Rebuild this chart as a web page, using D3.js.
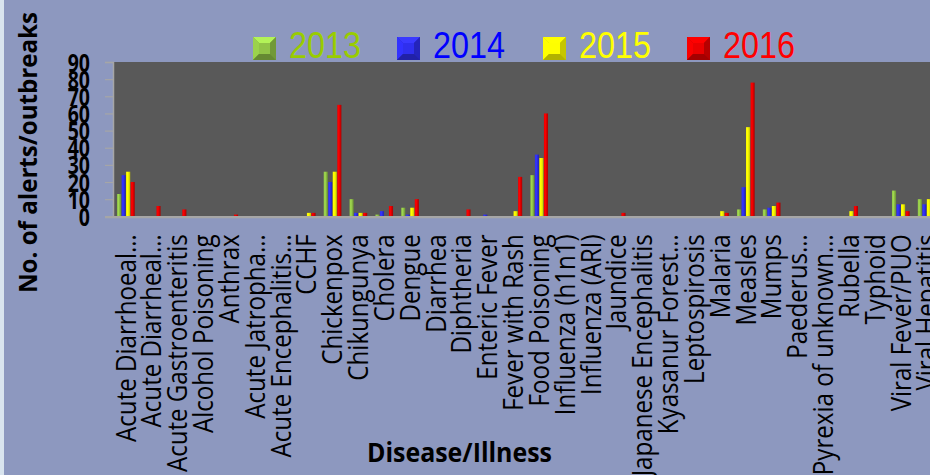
<!DOCTYPE html>
<html><head><meta charset="utf-8">
<script src="https://cdn.jsdelivr.net/npm/d3@7"></script>
<style>
html,body{margin:0;padding:0;background:#8d98bf;overflow:hidden;}
svg{display:block;}
</style></head>
<body>
<svg id="chart" width="930" height="475"></svg>
<script>
const categories = ["Acute Diarrhoeal…","Acute Diarrheal…","Acute Gastroenteritis","Alcohol Poisoning","Anthrax","Acute Jatropha…","Acute Encephalitis…","CCHF","Chickenpox","Chikungunya","Cholera","Dengue","Diarrhea","Diphtheria","Enteric Fever","Fever with Rash","Food Poisoning","Influenza (h1n1)","Influenza (ARI)","Jaundice","Japanese Encephalitis","Kyasanur Forest…","Leptospirosis","Malaria","Measles","Mumps","Paederus…","Pyrexia of unknown…","Rubella","Typhoid","Viral Fever/PUO","Viral Hepatitis"];
const years = ["2013","2014","2015","2016"];
const v2013 = [13,0,0,0,0,0,0,0,26,10,1,5,0,0,0,0,24,0,0,0,0,0,0,0,4,4,0,0,0,0,15,10];
const v2014 = [24,0,0,0,0,0,0,0,20,2,3,1,0,0,1,0,36,0,0,0,0,0,0,0,17,5,0,0,0,0,7,7];
const v2015 = [26,0,0,0,0,0,0,2,26,2,0,5,0,0,0,3,34,0,0,0,0,0,0,3,52,6,0,0,3,0,7,10];
const v2016 = [20,6,4,0,1,0,0,2,65,2,6,10,0,4,0,23,60,0,0,2,0,0,0,2,78,8,0,0,6,0,3,4];
const yTicks = [0,10,20,30,40,50,60,70,80,90];
const series = [v2013, v2014, v2015, v2016];
const barColors = ["#82b040","#2a2ad6","#e4e400","#d20000"];
const textColors = ["#99cc00","#0000ff","#ffff00","#ff0000"];

const FONT = "'Open Sans','Lato',sans-serif";
const svg = d3.select("#chart");
const W = 930, H = 475;
svg.append("rect").attr("x",0).attr("y",0).attr("width",W).attr("height",H).attr("fill","#8d98bf");
svg.append("rect").attr("x",0).attr("y",0).attr("width",4).attr("height",H).attr("fill","#d9e4ee");

const plotLeft = 113, plotTop = 62, plotBottom = 216.3;
const step = 25.83;
const x = d3.scaleBand().domain(categories).range([plotLeft, plotLeft + step*categories.length]).paddingInner(0.3).paddingOuter(0.15);
const x1 = d3.scaleBand().domain(years).range([0, x.bandwidth()]).padding(0);
const y = d3.scaleLinear().domain([0,90]).range([plotBottom, plotTop]);

const defs = svg.append("defs");
barColors.forEach((c,i)=>{
  const g = defs.append("linearGradient").attr("id","bg"+i).attr("x1","0").attr("x2","1").attr("y1","0").attr("y2","0");
  const col = d3.color(c);
  g.append("stop").attr("offset","0%").attr("stop-color", col.brighter(0.3));
  g.append("stop").attr("offset","35%").attr("stop-color", col.brighter(0.6));
  g.append("stop").attr("offset","70%").attr("stop-color", col);
  g.append("stop").attr("offset","100%").attr("stop-color", col.darker(0.6));
});

// plot area
svg.append("rect").attr("x",plotLeft).attr("y",plotTop).attr("width", W).attr("height", plotBottom-plotTop).attr("fill","#595959");

// bars
const gBars = svg.append("g");
categories.forEach((cat,ci)=>{
  years.forEach((yr,si)=>{
    const val = series[si][ci];
    if (val <= 0) return;
    gBars.append("rect")
      .attr("x", x(cat) + x1(yr) + 0.2)
      .attr("y", y(val))
      .attr("width", x1.bandwidth() - 0.4)
      .attr("height", y(0) - y(val))
      .attr("fill", "url(#bg"+si+")");
  });
});

// y axis
const yAxis = d3.axisLeft(y).tickValues(yTicks).tickSize(8).tickPadding(0);
const ya = svg.append("g").attr("transform",`translate(${plotLeft},0)`).call(yAxis);
ya.select(".domain").attr("stroke","#a6a6a6").attr("stroke-width",1.5);
ya.selectAll(".tick line").attr("stroke","#a6a6a6").attr("stroke-width",1.2);
const ySc = 0.78;
ya.selectAll(".tick text").attr("fill","#000").attr("font-family",FONT)
  .attr("font-weight","bold").attr("font-size","25px").attr("dy","0.36em")
  .attr("x", -23/ySc).attr("transform",`scale(${ySc},1)`);

// x axis
const xAxis = d3.axisBottom(x).tickSize(0).tickPadding(0);
const xa = svg.append("g").attr("transform",`translate(0,${plotBottom})`).call(xAxis);
xa.select(".domain").remove();
svg.append("line").attr("x1",plotLeft-8).attr("x2",W).attr("y1",plotBottom+0.8).attr("y2",plotBottom+0.8).attr("stroke","#a6a6a6").attr("stroke-width",2.4);
const labels = xa.selectAll(".tick text")
  .attr("fill","#000")
  .attr("font-family",FONT)
  .attr("font-size","27px")
  .attr("text-anchor","end");
// measure to compress to the reference's narrow face
let refLen = 0;
labels.each(function(d){ if (d === "Acute Gastroenteritis") refLen = this.getComputedTextLength(); });
const kx = refLen > 0 ? 238/refLen : 0.8;
labels.attr("transform",`rotate(-90) scale(${kx},1)`)
  .attr("x",-18/kx).attr("y",0).attr("dy","0.36em");

// axis titles
svg.append("text").attr("x",459.5).attr("y",462).attr("text-anchor","middle")
  .attr("font-family",FONT).attr("font-weight","bold").attr("font-size","26px")
  .attr("textLength",185).attr("lengthAdjust","spacingAndGlyphs")
  .attr("fill","#000").text("Disease/Illness");
svg.append("text").attr("transform","translate(37,152.5) rotate(-90)").attr("text-anchor","middle")
  .attr("font-family",FONT).attr("font-weight","bold").attr("font-size","25px")
  .attr("textLength",281).attr("lengthAdjust","spacingAndGlyphs")
  .attr("fill","#000").text("No. of alerts/outbreaks");

// legend
const legX = [253, 397, 543, 687];
years.forEach((yr,i)=>{
  const g = svg.append("g").attr("transform",`translate(${legX[i]},37)`);
  const s = 23, c = d3.color(barColors[i]), inset = 6;
  g.append("rect").attr("x",0).attr("y",0).attr("width",s).attr("height",s).attr("fill",c.darker(0.3));
  g.append("polygon").attr("points",`0,0 ${s},0 ${s-inset},${inset} ${inset},${inset}`).attr("fill",c.brighter(0.9));
  g.append("polygon").attr("points",`0,0 ${inset},${inset} ${inset},${s-inset} 0,${s}`).attr("fill",c.brighter(0.5));
  g.append("polygon").attr("points",`${s},0 ${s},${s} ${s-inset},${s-inset} ${s-inset},${inset}`).attr("fill",c.darker(0.4));
  g.append("polygon").attr("points",`0,${s} ${s},${s} ${s-inset},${s-inset} ${inset},${s-inset}`).attr("fill",c.darker(0.7));
  g.append("rect").attr("x",inset).attr("y",inset).attr("width",s-2*inset).attr("height",s-2*inset).attr("fill",c.brighter(0.3));
  g.append("text").attr("x",36).attr("y",20.5).attr("fill",textColors[i])
    .attr("font-family","'Liberation Sans','Arial',sans-serif").attr("font-size","36px")
    .attr("textLength",72).attr("lengthAdjust","spacingAndGlyphs").text(yr);
});
</script>
</body></html>
